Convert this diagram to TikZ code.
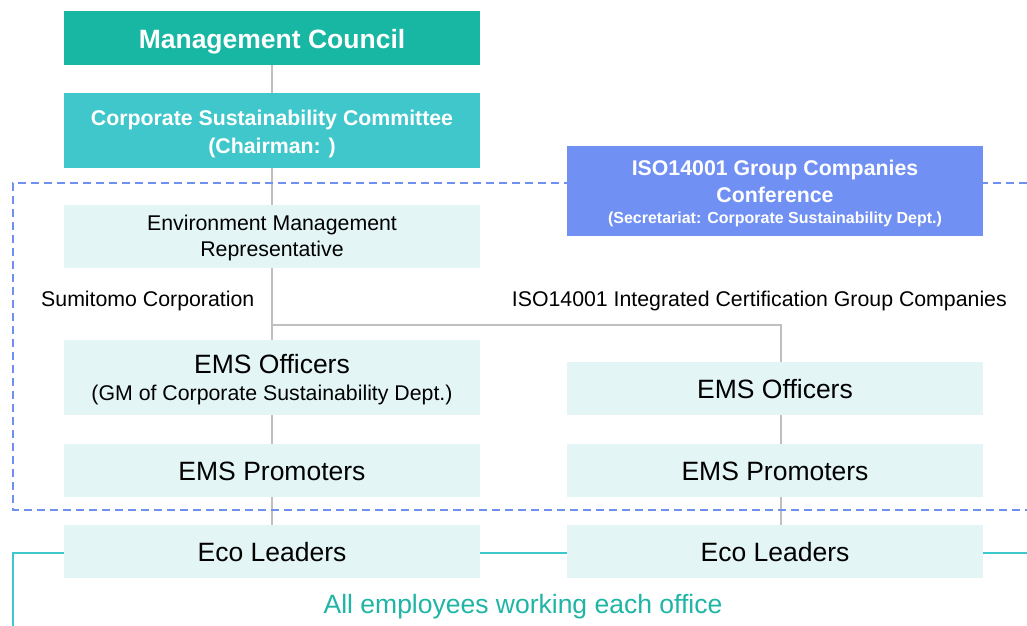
\documentclass[tikz,border=0pt]{standalone}
\usepackage{fontspec}
\setmainfont{Liberation Sans}
\usetikzlibrary{calc,backgrounds}
\definecolor{mcteal}{HTML}{17B7A3}
\definecolor{cscteal}{HTML}{40C7CB}
\definecolor{isoblue}{HTML}{7190F3}
\definecolor{lightbox}{HTML}{E3F6F5}
\definecolor{tealline}{HTML}{3CC8CC}
\definecolor{tealtext}{HTML}{1FB5A5}
\definecolor{greyline}{HTML}{BFBFBF}
\definecolor{dashblue}{HTML}{7090F0}
\tikzset{
  boxbase/.style={minimum width=416pt, inner sep=0pt, align=center, text=black, text depth=0pt},
  lightstyle/.style={boxbase, fill=lightbox},
  bigtxt/.style={font=\fontsize{26.5}{29}\selectfont},
  midtxt/.style={font=\fontsize{21.3}{26}\selectfont},
  conn/.style={draw=greyline, line width=2pt},
  tconn/.style={draw=tealline, line width=2pt},
  dashbox/.style={draw=dashblue, line width=1.6pt, dash pattern=on 8pt off 5pt},
}
\begin{document}
\begin{tikzpicture}[x=1pt,y=-1pt]
\useasboundingbox (0,0) rectangle (1027,625);
% dashed frame
\draw[dashbox] (1040,183) -- (13,183) -- (13,510) -- (1040,510);
% nodes
\node[boxbase, fill=mcteal, minimum height=54pt, text=white, text height=20.6pt, font=\bfseries\fontsize{26.5}{29}\selectfont] (mc) at (272,38) {Management Council};
\node[boxbase, fill=cscteal, minimum height=75pt, text=white, text height=45pt, font=\bfseries\fontsize{21.3}{27.6}\selectfont] (csc) at (272,130.8) {Corporate Sustainability Committee\\(Chairman: )};
\node[boxbase, fill=isoblue, minimum height=90pt, text=white, text height=64.6pt, font=\bfseries\fontsize{21.3}{27.3}\selectfont] (iso) at (775,191) {ISO14001 Group Companies\\Conference\\[-6.3pt]\fontsize{16}{19}\selectfont (Secretariat: Corporate Sustainability Dept.)};
\node[lightstyle, minimum height=63pt, text height=40.8pt, midtxt] (emr) at (272,236.4) {Environment Management\\Representative};
\node[lightstyle, minimum height=75pt, text height=45pt, font=\fontsize{26.5}{26.7}\selectfont] (eol) at (272,377.5) {EMS Officers\\\fontsize{21.3}{25}\selectfont (GM of Corporate Sustainability Dept.)};
\node[lightstyle, minimum height=53pt, text height=20.2pt, bigtxt] (eor) at (775,388.5) {EMS Officers};
\node[lightstyle, minimum height=53pt, text height=20.2pt, bigtxt] (epl) at (272,470.8) {EMS Promoters};
\node[lightstyle, minimum height=53pt, text height=20.2pt, bigtxt] (epr) at (775,470.8) {EMS Promoters};
\node[lightstyle, minimum height=53pt, text height=20.2pt, bigtxt] (ell) at (272,551.7) {Eco Leaders};
\node[lightstyle, minimum height=53pt, text height=20.2pt, bigtxt] (elr) at (775,551.7) {Eco Leaders};
% labels
\node[midtxt, anchor=base west, inner sep=0pt] (sumi) at (41,306) {Sumitomo Corporation};
\node[midtxt, anchor=base east, inner sep=0pt] (isog) at (1007,306.5) {ISO14001 Integrated Certification Group Companies};
\node[bigtxt, text=tealtext, anchor=base, inner sep=0pt] (allemp) at (523,613) {All employees working each office};
% connectors
\coordinate (split) at (272,325);
\coordinate (rtop) at (781,325);
\coordinate (lcorner) at (13,553);
\coordinate (lbottom) at (13,630);
\coordinate (rend) at (1030,553);
\begin{scope}[on background layer]
\draw[conn] (mc.south) -- (ell.north);
\draw[conn] (split) -- (rtop) -- ($(elr.north)+(6,0)$);
\end{scope}
\draw[tconn] (lbottom) -- (lcorner) -- (lcorner -| ell.west);
\draw[tconn] (ell.east |- lcorner) -- (elr.west |- lcorner);
\draw[tconn] (elr.east |- lcorner) -- (rend);
\end{tikzpicture}
\end{document}
